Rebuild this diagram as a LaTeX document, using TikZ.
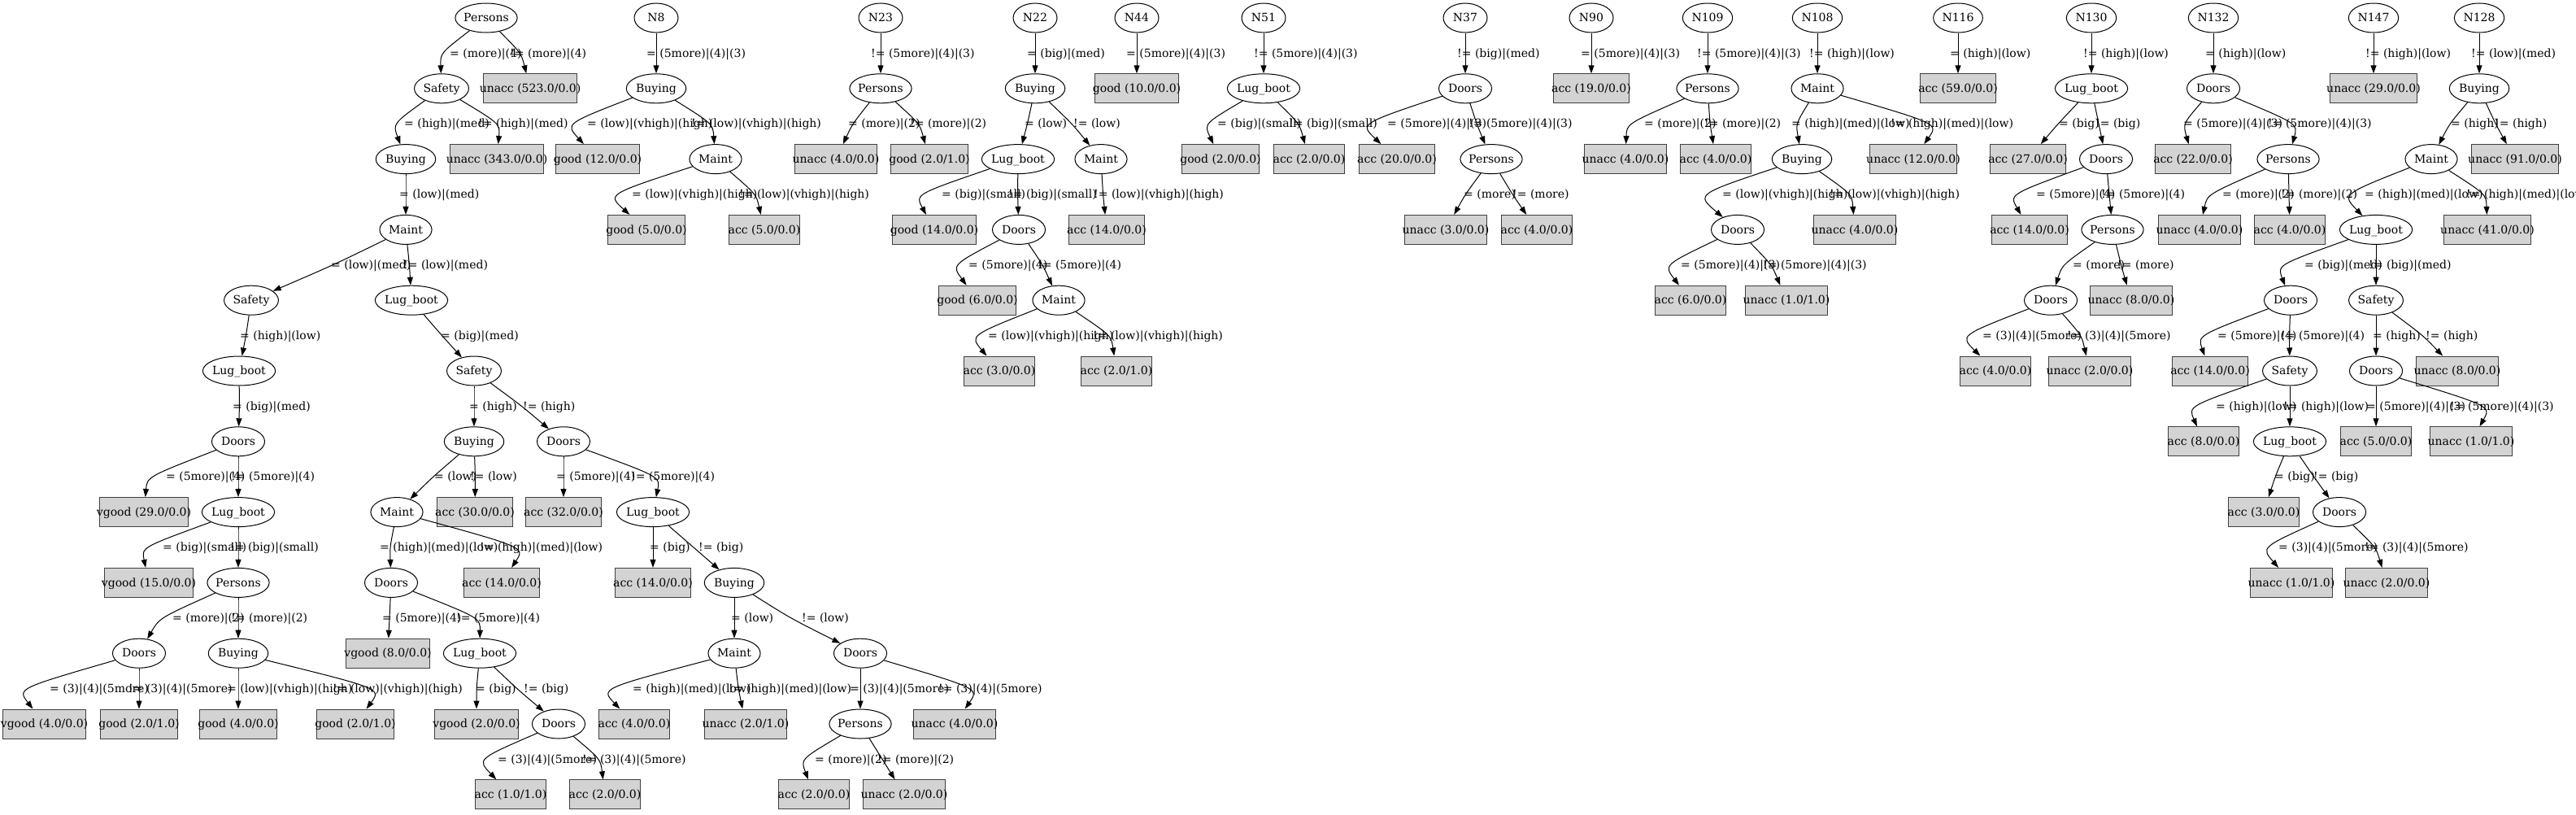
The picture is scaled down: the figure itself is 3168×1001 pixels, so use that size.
\documentclass[tikz,border=0pt]{standalone}
\usepackage{fontspec}
\newfontfamily\gvf{DejaVu Serif}
\newfontfamily\tmf{Liberation Serif}
\usetikzlibrary{shapes.geometric,arrows.meta,calc}
\definecolor{leafgray}{HTML}{D3D3D3}
\newlength\gvw
\newcommand\et[1]{\settowidth\gvw{\tmf #1}\makebox[0.8485\gvw]{#1}}
\newcommand\bt[1]{\settowidth\gvw{\tmf #1}\makebox[\gvw]{#1}}
\tikzset{
 gvtext/.style={font=\gvf\fontsize{14}{16}\selectfont, text height=11.5pt, text depth=2pt},
 en/.style={gvtext, ellipse, draw=black, line width=1pt, minimum width=54pt, minimum height=36pt, inner xsep=8.49pt, inner ysep=0pt},
 bn/.style={gvtext, rectangle, draw=black!75, fill=leafgray, line width=1pt, minimum height=36pt, minimum width=54pt, inner xsep=8pt, inner ysep=0pt},
 lab/.style={gvtext, anchor=west, inner sep=0pt},
 gvedge/.style={draw=black, line width=1pt, -{Triangle[length=10pt,width=7pt]}},
}
\newcommand\EL[4]{\node[en] (#1) at (#2,#3) {\et{#4}};}
\newcommand\BX[4]{\node[bn] (#1) at (#2,#3) {\bt{#4}};}
\newcommand\E[7]{\draw[gvedge] (#2) .. controls ($2*(#4,#5)-0.5*(#2)-0.5*(#3)$) .. (#3); \node[lab] (#1) at (#6,#5) {#7};}
\begin{document}
\begin{tikzpicture}[x=1pt,y=-1pt]
\useasboundingbox (0,0) rectangle (3168,1001);
\fill[white] (0,0) rectangle (3168,1001);
% ---------------- tree 1 ----------------
\EL{a0}{598}{22}{Persons}
\EL{a1}{543}{108.8}{Safety}
\BX{a2}{652}{108.8}{unacc (523.0/0.0)}
\EL{a3}{499}{195.6}{Buying}
\BX{a4}{611}{195.6}{unacc (343.0/0.0)}
\EL{a5}{499}{282.4}{Maint}
\EL{a6}{309}{369.2}{Safety}
\EL{a7}{506}{369.2}{Lug\_boot}
\EL{a8}{294}{456}{Lug\_boot}
\EL{a9}{583}{456}{Safety}
\EL{a10}{293}{542.8}{Doors}
\BX{a11}{177}{629.6}{vgood (29.0/0.0)}
\EL{a12}{293}{629.6}{Lug\_boot}
\BX{a13}{183}{716.4}{vgood (15.0/0.0)}
\EL{a14}{293}{716.4}{Persons}
\EL{a15}{171}{803.2}{Doors}
\EL{a16}{293}{803.2}{Buying}
\BX{a17}{54.5}{890}{vgood (4.0/0.0)}
\BX{a18}{171}{890}{good (2.0/1.0)}
\BX{a19}{293}{890}{good (4.0/0.0)}
\BX{a20}{437}{890}{good (2.0/1.0)}
\EL{a21}{583}{542.8}{Buying}
\EL{a22}{693}{542.8}{Doors}
\EL{a23}{488}{629.6}{Maint}
\BX{a24}{584}{629.6}{acc (30.0/0.0)}
\BX{a25}{693}{629.6}{acc (32.0/0.0)}
\EL{a26}{803}{629.6}{Lug\_boot}
\EL{a27}{481}{716.4}{Doors}
\BX{a28}{617}{716.4}{acc (14.0/0.0)}
\BX{a29}{803}{716.4}{acc (14.0/0.0)}
\EL{a30}{903}{716.4}{Buying}
\BX{a31}{477}{803.2}{vgood (8.0/0.0)}
\EL{a32}{590}{803.2}{Lug\_boot}
\EL{a33}{903}{803.2}{Maint}
\EL{a34}{1058}{803.2}{Doors}
\BX{a35}{586}{890}{vgood (2.0/0.0)}
\EL{a36}{687}{890}{Doors}
\BX{a37}{780}{890}{acc (4.0/0.0)}
\BX{a38}{917}{890}{unacc (2.0/1.0)}
\EL{a39}{1058}{890}{Persons}
\BX{a40}{1174}{890}{unacc (4.0/0.0)}
\BX{a41}{628}{976.8}{acc (1.0/1.0)}
\BX{a42}{744}{976.8}{acc (2.0/0.0)}
\BX{a43}{1001}{976.8}{acc (2.0/0.0)}
\BX{a44}{1112}{976.8}{unacc (2.0/0.0)}
% ---------------- N8 ----------------
\EL{b0}{807}{22}{N8}
\EL{b1}{807}{108.8}{Buying}
\BX{b2}{735}{195.6}{good (12.0/0.0)}
\EL{b3}{880}{195.6}{Maint}
\BX{b4}{795}{282.4}{good (5.0/0.0)}
\BX{b5}{940}{282.4}{acc (5.0/0.0)}
% ---------------- N23 ----------------
\EL{c0}{1083}{22}{N23}
\EL{c1}{1083}{108.8}{Persons}
\BX{c2}{1028}{195.6}{unacc (4.0/0.0)}
\BX{c3}{1143}{195.6}{good (2.0/1.0)}
% ---------------- N22 ----------------
\EL{d0}{1273}{22}{N22}
\EL{d1}{1273}{108.8}{Buying}
\EL{d2}{1252}{195.6}{Lug\_boot}
\EL{d3}{1354}{195.6}{Maint}
\BX{d4}{1149}{282.4}{good (14.0/0.0)}
\EL{d5}{1253}{282.4}{Doors}
\BX{d6}{1361}{282.4}{acc (14.0/0.0)}
\BX{d7}{1202}{369.2}{good (6.0/0.0)}
\EL{d8}{1302}{369.2}{Maint}
\BX{d9}{1229}{456}{acc (3.0/0.0)}
\BX{d10}{1373}{456}{acc (2.0/1.0)}
% ---------------- N44 ----------------
\EL{e0}{1398}{22}{N44}
\BX{e1}{1398}{108.8}{good (10.0/0.0)}
% ---------------- N51 ----------------
\EL{f0}{1554}{22}{N51}
\EL{f1}{1554}{108.8}{Lug\_boot}
\BX{f2}{1501}{195.6}{good (2.0/0.0)}
\BX{f3}{1610}{195.6}{acc (2.0/0.0)}
% ---------------- N37 ----------------
\EL{g0}{1802}{22}{N37}
\EL{g1}{1802}{108.8}{Doors}
\BX{g2}{1718}{195.6}{acc (20.0/0.0)}
\EL{g3}{1834}{195.6}{Persons}
\BX{g4}{1778}{282.4}{unacc (3.0/0.0)}
\BX{g5}{1890}{282.4}{acc (4.0/0.0)}
% ---------------- N90 ----------------
\EL{h0}{1957}{22}{N90}
\BX{h1}{1957}{108.8}{acc (19.0/0.0)}
% ---------------- N109 ----------------
\EL{i0}{2100}{22}{N109}
\EL{i1}{2100}{108.8}{Persons}
\BX{i2}{1999}{195.6}{unacc (4.0/0.0)}
\BX{i3}{2110}{195.6}{acc (4.0/0.0)}
% ---------------- N108 ----------------
\EL{j0}{2235}{22}{N108}
\EL{j1}{2235}{108.8}{Maint}
\EL{j2}{2216}{195.6}{Buying}
\BX{j3}{2353}{195.6}{unacc (12.0/0.0)}
\EL{j4}{2137}{282.4}{Doors}
\BX{j5}{2281}{282.4}{unacc (4.0/0.0)}
\BX{j6}{2079}{369.2}{acc (6.0/0.0)}
\BX{j7}{2197}{369.2}{unacc (1.0/1.0)}
% ---------------- N116 ----------------
\EL{k0}{2408}{22}{N116}
\BX{k1}{2408}{108.8}{acc (59.0/0.0)}
% ---------------- N130 ----------------
\EL{m0}{2572}{22}{N130}
\EL{m1}{2572}{108.8}{Lug\_boot}
\BX{m2}{2494}{195.6}{acc (27.0/0.0)}
\EL{m3}{2590}{195.6}{Doors}
\BX{m4}{2496}{282.4}{acc (14.0/0.0)}
\EL{m5}{2598}{282.4}{Persons}
\EL{m6}{2522}{369.2}{Doors}
\BX{m7}{2621}{369.2}{unacc (8.0/0.0)}
\BX{m8}{2454}{456}{acc (4.0/0.0)}
\BX{m9}{2570}{456}{unacc (2.0/0.0)}
% ---------------- N132 ----------------
\EL{n0}{2722}{22}{N132}
\EL{n1}{2722}{108.8}{Doors}
\BX{n2}{2697}{195.6}{acc (22.0/0.0)}
\EL{n3}{2814}{195.6}{Persons}
\BX{n4}{2705}{282.4}{unacc (4.0/0.0)}
\BX{n5}{2816}{282.4}{acc (4.0/0.0)}
% ---------------- N147 ----------------
\EL{o0}{2919}{22}{N147}
\BX{o1}{2919}{108.8}{unacc (29.0/0.0)}
% ---------------- N128 ----------------
\EL{q0}{3049}{22}{N128}
\EL{q1}{3049}{108.8}{Buying}
\EL{q2}{2990}{195.6}{Maint}
\BX{q3}{3093}{195.6}{unacc (91.0/0.0)}
\EL{q4}{2922}{282.4}{Lug\_boot}
\BX{q5}{3059}{282.4}{unacc (41.0/0.0)}
\EL{q6}{2817}{369.2}{Doors}
\EL{q7}{2922}{369.2}{Safety}
\BX{q8}{2718}{456}{acc (14.0/0.0)}
\EL{q9}{2816}{456}{Safety}
\EL{q10}{2922}{456}{Doors}
\BX{q11}{3022}{456}{unacc (8.0/0.0)}
\BX{q12}{2710}{542.8}{acc (8.0/0.0)}
\EL{q13}{2816}{542.8}{Lug\_boot}
\BX{q14}{2922}{542.8}{acc (5.0/0.0)}
\BX{q15}{3039}{542.8}{unacc (1.0/1.0)}
\BX{q16}{2784}{629.6}{acc (3.0/0.0)}
\EL{q17}{2877}{629.6}{Doors}
\BX{q18}{2818}{716.4}{unacc (1.0/1.0)}
\BX{q19}{2935}{716.4}{unacc (2.0/0.0)}
% ================= edges =================
\E{l1}{a0}{a1}{556}{65.4}{553}{= (more)|(4)}
\E{l2}{a0}{a2}{633}{65.4}{627}{!= (more)|(4)}
\E{l3}{a1}{a3}{502}{152.2}{497}{= (high)|(med)}
\E{l4}{a1}{a4}{596}{152.2}{588}{!= (high)|(med)}
\E{l5}{a3}{a5}{499}{239}{491}{= (low)|(med)}
\E{l6}{a5}{a6}{407}{325.8}{407}{= (low)|(med)}
\E{l7}{a5}{a7}{503}{325.8}{496}{!= (low)|(med)}
\E{l8}{a6}{a8}{302}{412.6}{295}{= (high)|(low)}
\E{l9}{a7}{a9}{544}{412.6}{542}{= (big)|(med)}
\E{l10}{a8}{a10}{294}{499.4}{286}{= (big)|(med)}
\E{l11}{a10}{a11}{208}{586.2}{204}{= (5more)|(4)}
\E{l12}{a10}{a12}{293}{586.2}{284}{!= (5more)|(4)}
\E{l13}{a12}{a13}{206}{673}{200}{= (big)|(small)}
\E{l14}{a12}{a14}{293}{673}{283}{!= (big)|(small)}
\E{l15}{a14}{a15}{214}{759.8}{212}{= (more)|(2)}
\E{l16}{a14}{a16}{293}{759.8}{284}{!= (more)|(2)}
\E{l17}{a15}{a17}{67}{846.6}{61}{= (3)|(4)|(5more)}
\E{l18}{a15}{a18}{171}{846.6}{158}{!= (3)|(4)|(5more)}
\E{l19}{a16}{a19}{293}{846.6}{279}{= (low)|(vhigh)|(high)}
\E{l20}{a16}{a20}{417}{846.6}{409}{!= (low)|(vhigh)|(high)}
\E{l21}{a9}{a21}{583}{499.4}{577}{= (high)}
\E{l22}{a9}{a22}{640}{499.4}{643}{!= (high)}
\E{l23}{a21}{a23}{534}{586.2}{534}{= (low)}
\E{l24}{a21}{a24}{584}{586.2}{578}{!= (low)}
\E{l25}{a22}{a25}{693}{586.2}{684}{= (5more)|(4)}
\E{l26}{a22}{a26}{780}{586.2}{776}{!= (5more)|(4)}
\E{l27}{a23}{a27}{482}{673}{467}{= (high)|(med)|(low)}
\E{l28}{a23}{a28}{599}{673}{590}{!= (high)|(med)|(low)}
\E{l29}{a26}{a29}{803}{673}{799}{= (big)}
\E{l30}{a26}{a30}{853}{673}{859}{!= (big)}
\E{l31}{a27}{a31}{479}{759.8}{470}{= (5more)|(4)}
\E{l32}{a27}{a32}{563}{759.8}{561}{!= (5more)|(4)}
\E{l33}{a30}{a33}{903}{759.8}{899}{= (low)}
\E{l34}{a30}{a34}{976}{759.8}{986}{!= (low)}
\E{l35}{a32}{a35}{587}{846.6}{585}{= (big)}
\E{l36}{a32}{a36}{637}{846.6}{644}{!= (big)}
\E{l37}{a33}{a37}{790}{846.6}{778}{= (high)|(med)|(low)}
\E{l38}{a33}{a38}{909}{846.6}{896}{!= (high)|(med)|(low)}
\E{l39}{a34}{a39}{1058}{846.6}{1045}{= (3)|(4)|(5more)}
\E{l40}{a34}{a40}{1160}{846.6}{1154}{!= (3)|(4)|(5more)}
\E{l41}{a36}{a41}{622}{933.4}{612}{= (3)|(4)|(5more)}
\E{l42}{a36}{a42}{727}{933.4}{716}{!= (3)|(4)|(5more)}
\E{l43}{a39}{a43}{1007}{933.4}{1002}{= (more)|(2)}
\E{l44}{a39}{a44}{1085}{933.4}{1079}{!= (more)|(2)}
\E{l45}{b0}{b1}{807}{65.4}{795}{= (5more)|(4)|(3)}
\E{l46}{b1}{b2}{733}{152.2}{722}{= (low)|(vhigh)|(high)}
\E{l47}{b1}{b3}{860}{152.2}{850}{!= (low)|(vhigh)|(high)}
\E{l48}{b3}{b4}{792}{239}{777}{= (low)|(vhigh)|(high)}
\E{l49}{b3}{b5}{920}{239}{909}{!= (low)|(vhigh)|(high)}
\E{l50}{c0}{c1}{1083}{65.4}{1071}{!= (5more)|(4)|(3)}
\E{l51}{c1}{c2}{1052}{152.2}{1043}{= (more)|(2)}
\E{l52}{c1}{c3}{1122}{152.2}{1119}{!= (more)|(2)}
\E{l53}{d0}{d1}{1273}{65.4}{1263}{= (big)|(med)}
\E{l54}{d1}{d2}{1263}{152.2}{1260}{= (low)}
\E{l55}{d1}{d3}{1316}{152.2}{1320}{!= (low)}
\E{l56}{d2}{d4}{1163}{239}{1158}{= (big)|(small)}
\E{l57}{d2}{d5}{1252}{239}{1240}{!= (big)|(small)}
\E{l58}{d3}{d6}{1357}{239}{1345}{!= (low)|(vhigh)|(high)}
\E{l59}{d5}{d7}{1199}{325.8}{1191}{= (5more)|(4)}
\E{l60}{d5}{d8}{1280}{325.8}{1276}{!= (5more)|(4)}
\E{l61}{d8}{d9}{1229}{412.6}{1215}{= (low)|(vhigh)|(high)}
\E{l62}{d8}{d10}{1352}{412.6}{1344}{!= (low)|(vhigh)|(high)}
\E{l63}{e0}{e1}{1398}{65.4}{1385}{= (5more)|(4)|(3)}
\E{l64}{f0}{f1}{1554}{65.4}{1542}{!= (5more)|(4)|(3)}
\E{l65}{f1}{f2}{1504}{152.2}{1497}{= (big)|(small)}
\E{l66}{f1}{f3}{1590}{152.2}{1585}{!= (big)|(small)}
\E{l67}{g0}{g1}{1802}{65.4}{1792}{!= (big)|(med)}
\E{l68}{g1}{g2}{1716}{152.2}{1706}{= (5more)|(4)|(3)}
\E{l69}{g1}{g3}{1817}{152.2}{1806}{!= (5more)|(4)|(3)}
\E{l70}{g3}{g4}{1804}{239}{1800}{= (more)}
\E{l71}{g3}{g5}{1861}{239}{1860}{!= (more)}
\E{l72}{h0}{h1}{1957}{65.4}{1944}{= (5more)|(4)|(3)}
\E{l73}{i0}{i1}{2100}{65.4}{2087}{!= (5more)|(4)|(3)}
\E{l74}{i1}{i2}{2025}{152.2}{2022}{= (more)|(2)}
\E{l75}{i1}{i3}{2104}{152.2}{2096}{!= (more)|(2)}
\E{l76}{j0}{j1}{2235}{65.4}{2225}{!= (high)|(low)}
\E{l77}{j1}{j2}{2217}{152.2}{2203}{= (high)|(med)|(low)}
\E{l78}{j1}{j3}{2339}{152.2}{2325}{!= (high)|(med)|(low)}
\E{l79}{j2}{j4}{2131}{239}{2118}{= (low)|(vhigh)|(high)}
\E{l80}{j2}{j5}{2263}{239}{2250}{!= (low)|(vhigh)|(high)}
\E{l81}{j4}{j6}{2077}{325.8}{2067}{= (5more)|(4)|(3)}
\E{l82}{j4}{j7}{2173}{325.8}{2168}{!= (5more)|(4)|(3)}
\E{l83}{k0}{k1}{2408}{65.4}{2398}{= (high)|(low)}
\E{l84}{m0}{m1}{2572}{65.4}{2562}{!= (high)|(low)}
\E{l85}{m1}{m2}{2532}{152.2}{2532}{= (big)}
\E{l86}{m1}{m3}{2581}{152.2}{2577}{!= (big)}
\E{l87}{m3}{m4}{2507}{239}{2504}{= (5more)|(4)}
\E{l88}{m3}{m5}{2594}{239}{2584}{!= (5more)|(4)}
\E{l89}{m5}{m6}{2548}{325.8}{2549}{= (more)}
\E{l90}{m5}{m7}{2609}{325.8}{2604}{!= (more)}
\E{l91}{m6}{m8}{2449}{412.6}{2438}{= (3)|(4)|(5more)}
\E{l92}{m6}{m9}{2553}{412.6}{2542}{!= (3)|(4)|(5more)}
\E{l93}{n0}{n1}{2722}{65.4}{2712}{= (high)|(low)}
\E{l94}{n1}{n2}{2697}{152.2}{2685}{= (5more)|(4)|(3)}
\E{l95}{n1}{n3}{2797}{152.2}{2789}{!= (5more)|(4)|(3)}
\E{l96}{n3}{n4}{2737}{239}{2733}{= (more)|(2)}
\E{l97}{n3}{n5}{2815}{239}{2805}{!= (more)|(2)}
\E{l98}{o0}{o1}{2919}{65.4}{2909}{!= (high)|(low)}
\E{l99}{q0}{q1}{3049}{65.4}{3039}{!= (low)|(med)}
\E{l100}{q1}{q2}{3016}{152.2}{3014}{= (high)}
\E{l101}{q1}{q3}{3070}{152.2}{3068}{!= (high)}
\E{l102}{q2}{q4}{2918}{239}{2908}{= (high)|(med)|(low)}
\E{l103}{q2}{q5}{3041}{239}{3033}{!= (high)|(med)|(low)}
\E{l104}{q4}{q6}{2835}{325.8}{2834}{= (big)|(med)}
\E{l105}{q4}{q7}{2922}{325.8}{2913}{!= (big)|(med)}
\E{l106}{q6}{q8}{2735}{412.6}{2727}{= (5more)|(4)}
\E{l107}{q6}{q9}{2816}{412.6}{2805}{!= (5more)|(4)}
\E{l108}{q7}{q10}{2922}{412.6}{2918}{= (high)}
\E{l109}{q7}{q11}{2976}{412.6}{2983}{!= (high)}
\E{l110}{q9}{q12}{2727}{499.4}{2725}{= (high)|(low)}
\E{l111}{q9}{q13}{2816}{499.4}{2808}{!= (high)|(low)}
\E{l112}{q10}{q14}{2922}{499.4}{2910}{= (5more)|(4)|(3)}
\E{l113}{q10}{q15}{3022}{499.4}{3013}{!= (5more)|(4)|(3)}
\E{l114}{q13}{q16}{2799}{586.2}{2797}{= (big)}
\E{l115}{q13}{q17}{2846}{586.2}{2845}{!= (big)}
\E{l116}{q17}{q18}{2814}{673}{2802}{= (3)|(4)|(5more)}
\E{l117}{q17}{q19}{2914}{673}{2908}{!= (3)|(4)|(5more)}
\end{tikzpicture}
\end{document}
